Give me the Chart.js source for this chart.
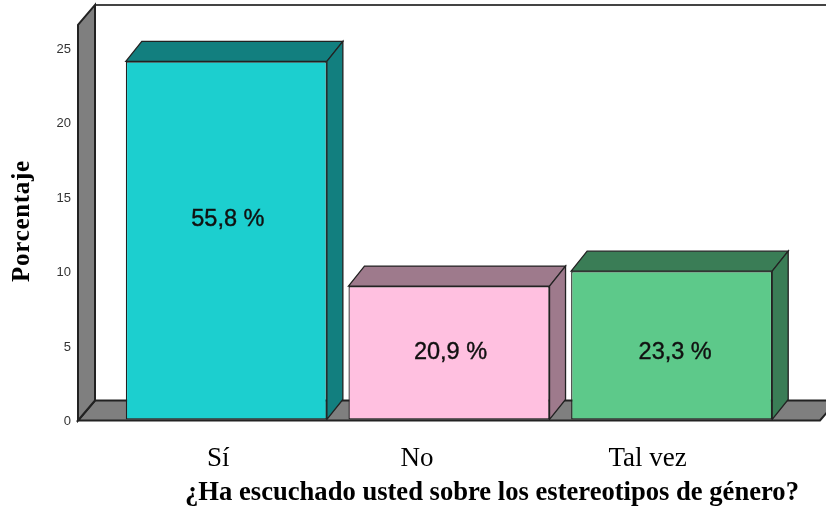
<!DOCTYPE html>
<html>
<head>
<meta charset="utf-8">
<style>
  html, body { margin: 0; padding: 0; background: #fff; }
  canvas { display: block; }
</style>
<script src="https://cdn.jsdelivr.net/npm/chart.js@4"></script>
</head>
<body>
<canvas id="chart" width="826" height="508"></canvas>
<script>
const categories = ['Sí', 'No', 'Tal vez'];
const barValues = [24.1, 9, 10];
const barLabels = ['55,8 %', '20,9 %', '23,3 %'];
const labelHeights = [13.48, 4.53, 4.53];   // where the % text sits, in axis units
const frontColors = ['#1CCFCF', '#FFC0E0', '#5DC98A'];
const topColors = ['#127F7F', '#9E7A8C', '#3A7D56'];
const yTicks = [0, 5, 10, 15, 20, 25];
const xTitle = '¿Ha escuchado usted sobre los estereotipos de género?';
const yTitle = 'Porcentaje';

const depthX = 17, depthY = 20;
const wallColor = '#7F7F7F';
const lineColor = '#222';
// labels do not sit exactly on the bar centres in the original
const catLabelShift = [-8, -32, -24];
const barLabelShift = [1.5, 1.5, 3.5];

function poly(ctx, pts, fill, stroke, width) {
    ctx.beginPath();
    pts.forEach((p, i) => i ? ctx.lineTo(p[0], p[1]) : ctx.moveTo(p[0], p[1]));
    ctx.closePath();
    ctx.fillStyle = fill;
    ctx.fill();
    ctx.strokeStyle = stroke;
    ctx.lineWidth = width;
    ctx.stroke();
}

const box3d = {
    id: 'box3d',
    beforeDatasetsDraw(chart) {
        const ctx = chart.ctx, area = chart.chartArea, y = chart.scales.y;
        const base = y.getPixelForValue(0) + 0.5;
        const wx = area.left - 37;
        const wTop = y.getPixelForValue(26.55);
        ctx.save();
        // floor
        poly(ctx, [[wx, base], [wx + depthX, base - depthY], [area.right + 54, base - depthY], [area.right + 37, base]], wallColor, lineColor, 2);
        // back wall top line
        ctx.beginPath();
        ctx.moveTo(wx + depthX, wTop - depthY);
        ctx.lineTo(826, wTop - depthY);
        ctx.strokeStyle = '#444';
        ctx.lineWidth = 2;
        ctx.stroke();
        // left wall
        poly(ctx, [[wx, base], [wx, wTop], [wx + depthX, wTop - depthY], [wx + depthX, base - depthY]], wallColor, lineColor, 2);
        // bar tops and sides
        chart.getDatasetMeta(0).data.forEach((bar, i) => {
            const l = bar.x - bar.width / 2, r = bar.x + bar.width / 2;
            poly(ctx, [[l, bar.y], [l + depthX - 1, bar.y - depthY], [r + depthX - 1, bar.y - depthY], [r, bar.y]], topColors[i], lineColor, 1.3);
            poly(ctx, [[r, bar.y], [r + depthX - 1, bar.y - depthY], [r + depthX - 1, bar.base - depthY], [r, bar.base]], topColors[i], lineColor, 1.3);
        });
        ctx.restore();
    },
    afterDraw(chart) {
        const ctx = chart.ctx, x = chart.scales.x, y = chart.scales.y;
        ctx.save();
        // the zero tick is cut off under the floor in the original
        ctx.fillStyle = '#fff';
        ctx.fillRect(50, y.getPixelForValue(0) + 5, 26, 12);
        ctx.textAlign = 'center';
        ctx.textBaseline = 'middle';
        ctx.fillStyle = '#111';
        ctx.strokeStyle = '#111';
        ctx.lineWidth = 0.4;
        ctx.font = '23.5px "Liberation Sans"';
        chart.getDatasetMeta(0).data.forEach((bar, i) => {
            const ly = y.getPixelForValue(labelHeights[i]);
            ctx.fillText(barLabels[i], bar.x + barLabelShift[i], ly);
            ctx.strokeText(barLabels[i], bar.x + barLabelShift[i], ly);
        });
        ctx.fillStyle = '#000';
        ctx.font = '27px "Liberation Serif"';
        categories.forEach((c, i) => {
            ctx.fillText(c, x.getPixelForValue(i) + catLabelShift[i], 459);
        });
        ctx.font = 'bold 26.6px "Liberation Serif"';
        ctx.fillText(xTitle, 492, 493);
        ctx.translate(23, 221);
        ctx.rotate(-Math.PI / 2);
        ctx.font = 'bold 25px "Liberation Serif"';
        ctx.letterSpacing = '0.7px';
        ctx.fillText(yTitle, 0, 0);
        ctx.restore();
    }
};

new Chart(document.getElementById('chart'), {
    type: 'bar',
    data: {
        labels: categories,
        datasets: [{
            data: barValues,
            backgroundColor: frontColors,
            borderColor: lineColor,
            borderWidth: 1.3,
            borderSkipped: false,
            barPercentage: 0.903,
            categoryPercentage: 1
        }]
    },
    options: {
        responsive: false,
        animation: false,
        devicePixelRatio: 1,
        layout: { padding: { top: 48, right: 43, bottom: 88, left: 0 } },
        plugins: { legend: { display: false }, tooltip: { enabled: false }, title: { display: false } },
        scales: {
            x: { display: false, grid: { display: false } },
            y: {
                min: 0,
                max: 25,
                afterFit(scale) { scale.width = 115; },
                afterBuildTicks(scale) { scale.ticks = yTicks.map(v => ({ value: v })); },
                // ticks.padding also pads the top of the axis, so use an invisible tick length instead
                grid: { drawOnChartArea: false, drawTicks: true, tickLength: 44, tickColor: 'transparent' },
                border: { display: false },
                ticks: {
                    padding: 0,
                    labelOffset: 1.5,
                    color: '#333',
                    font: { family: '"Liberation Sans"', size: 13 }
                }
            }
        }
    },
    plugins: [box3d]
});
</script>
</body>
</html>
